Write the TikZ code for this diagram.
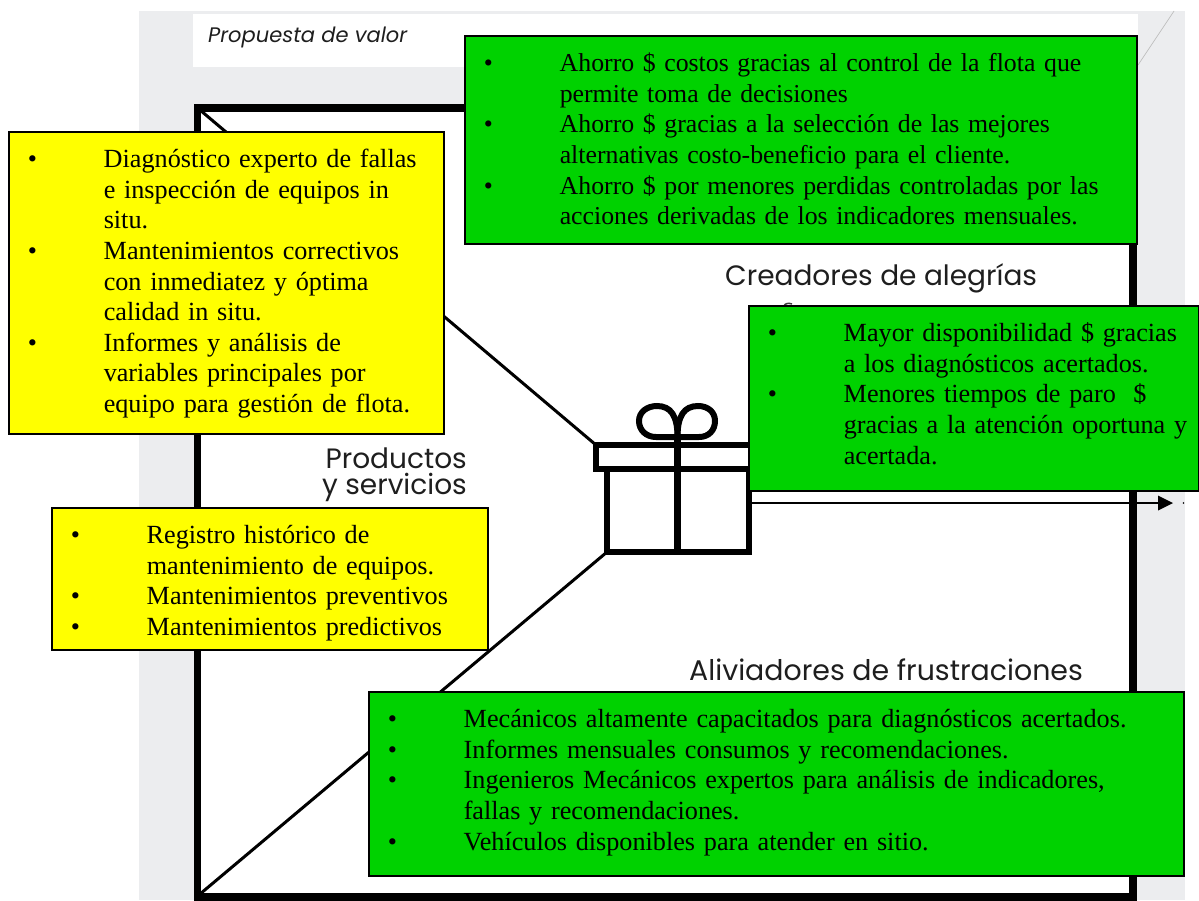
\documentclass[tikz,border=0pt]{standalone}
\usepackage{fontspec}
\setmainfont{Liberation Serif}
\newfontfamily\rotulofont{Poppins}
\newcommand{\cajafont}{\fontsize{26.2}{30.6}\selectfont}
\newcommand{\rotulosize}{\fontsize{28}{26.5}\selectfont}
\tikzset{
  cajatexto/.style 2 args={anchor=north west, draw=black, line width=1.5pt, inner xsep=19pt, inner ysep=0pt, font=\cajafont, text=black, text height=36pt, text width=#1, text depth=#2},
  cajaverde/.style={fill={rgb, 255:red, 0; green, 210; blue, 0 }},
  cajaamarilla/.style={fill={rgb, 255:red, 255; green, 255; blue, 0 }},
  rotulo/.style={inner sep=0pt, font=\rotulofont\rotulosize, text={rgb, 255:red, 30; green, 30; blue, 30 }}
}
\begin{document}
\begin{tikzpicture}[x=1pt,y=-1pt]
\useasboundingbox (0,0) rectangle (1199,900);
%Shape: Rectangle [id:panel]
\fill [color={rgb, 255:red, 236; green, 237; blue, 239 }] (139,11) rectangle (1185,900);
\fill [white] (193,14) rectangle (1138,67);
%Straight Lines [id:pliegue]
\draw [color={rgb, 255:red, 190; green, 190; blue, 190 }, line width=0.7pt] (1138,65) -- (1174,11);
%Shape: Rectangle [id:marco]
\coordinate (marcoNO) at (197.5,108);
\coordinate (marcoSE) at (1133,897);
\fill [white] (marcoNO) rectangle (marcoSE);
\draw [line width=7.5pt] (marcoNO) rectangle (marcoSE);
% Gift corners
\coordinate (tapaNO) at (596,445);
\coordinate (cuerpoSO) at (607,552);
%Straight Lines [id:diagonales]
\draw [line width=3pt] (200,110) -- (tapaNO);
\draw [line width=3pt] (200,894) -- (cuerpoSO);
%Shape: Polygon [id:regalo]
\draw [line width=6pt] (596,445) rectangle (765,469);
\draw [line width=6pt] (607,469) rectangle (749,552);
\draw [line width=6.5pt] (677.5,437) -- (677.5,552);
%Curve Lines [id:lazo]
\draw [line width=6pt] (677.5,437) -- (656,437) .. controls (646,437) and (639,430) .. (639,421) .. controls (639,412) and (647,406) .. (657,406) .. controls (671,406) and (677.5,416) .. (677.5,437);
\draw [line width=6pt] (677.5,437) -- (699,437) .. controls (709,437) and (715,430) .. (715,421) .. controls (715,412) and (708,406) .. (698,406) .. controls (684,406) and (677.5,416) .. (677.5,437);
%Straight Lines [id:flecha]
\coordinate (flechaIni) at (752,503);
\coordinate (flechaFin) at (1173,503);
\draw [line width=2.5pt] (flechaIni) -- (1160,503);
\fill (flechaFin) -- (1158,495.5) -- (1158,510.5) -- cycle;
\fill (1183.5,503) circle (0.9pt);
%Curve Lines [id:resto]
\draw [line width=1.5pt, color={rgb, 255:red, 60; green, 60; blue, 60 }] (784,306) .. controls (785,303) and (789,303) .. (792,304);
% Text Node
\node [rotulo, anchor=base west, font=\rotulofont\itshape\fontsize{21}{24}\selectfont] (propuesta) at (208,42) {Propuesta de valor};
% Text Node
\node [rotulo, anchor=base west] (creadores) at (725,285) {Creadores de alegrías};
% Text Node
\node [rotulo, anchor=north east, align=right] (productos) at (467,447.5) {Productos\\y servicios};
% Text Node
\node [rotulo, anchor=base west, font=\rotulofont\fontsize{28.4}{30}\selectfont] (aliviadores) at (689,680) {Aliviadores de frustraciones};
% Text Node
\node [cajatexto={634pt}{172pt}, cajaverde, font=\fontsize{25.8}{30.6}\selectfont] (ahorros) at (464,35) {\begin{tabular}[t]{@{}p{76pt}@{}l@{}}
\textbullet & Ahorro \$ costos gracias al control de la flota que\\
 & permite toma de decisiones\\
\textbullet & Ahorro \$ gracias a la selección de las mejores\\
 & alternativas costo-beneficio para el cliente.\\
\textbullet & Ahorro \$ por menores perdidas controladas por las\\
 & acciones derivadas de los indicadores mensuales.
\end{tabular}};
% Text Node
\node [cajatexto={397pt}{266pt}, cajaamarilla] (diagnostico) at (8,131) {\begin{tabular}[t]{@{}p{76pt}@{}l@{}}
\textbullet & Diagnóstico experto de fallas\\
 & e inspección de equipos in\\
 & situ.\\
\textbullet & Mantenimientos correctivos\\
 & con inmediatez y óptima\\
 & calidad in situ.\\
\textbullet & Informes y análisis de\\
 & variables principales por\\
 & equipo para gestión de flota.
\end{tabular}};
% Text Node
\node [cajatexto={398pt}{106pt}, cajaamarilla] (registro) at (51,507) {\begin{tabular}[t]{@{}p{76pt}@{}l@{}}
\textbullet & Registro histórico de\\
 & mantenimiento de equipos.\\
\textbullet & Mantenimientos preventivos\\
\textbullet & Mantenimientos predictivos
\end{tabular}};
% Text Node
\node [cajatexto={412pt}{149pt}, cajaverde] (disponibilidad) at (748,305) {\begin{tabular}[t]{@{}p{76pt}@{}l@{}}
\textbullet & Mayor disponibilidad \$ gracias\\
 & a los diagnósticos acertados.\\
\textbullet & Menores tiempos de paro~ \$\\
 & gracias a la atención oportuna y\\
 & acertada.
\end{tabular}};
% Text Node
\node [cajatexto={777pt}{148pt}, cajaverde] (mecanicos) at (368,691) {\begin{tabular}[t]{@{}p{76pt}@{}l@{}}
\textbullet & Mecánicos altamente capacitados para diagnósticos acertados.\\
\textbullet & Informes mensuales consumos y recomendaciones.\\
\textbullet & Ingenieros Mecánicos expertos para análisis de indicadores,\\
 & fallas y recomendaciones.\\
\textbullet & Vehículos disponibles para atender en sitio.
\end{tabular}};
\end{tikzpicture}
\end{document}
